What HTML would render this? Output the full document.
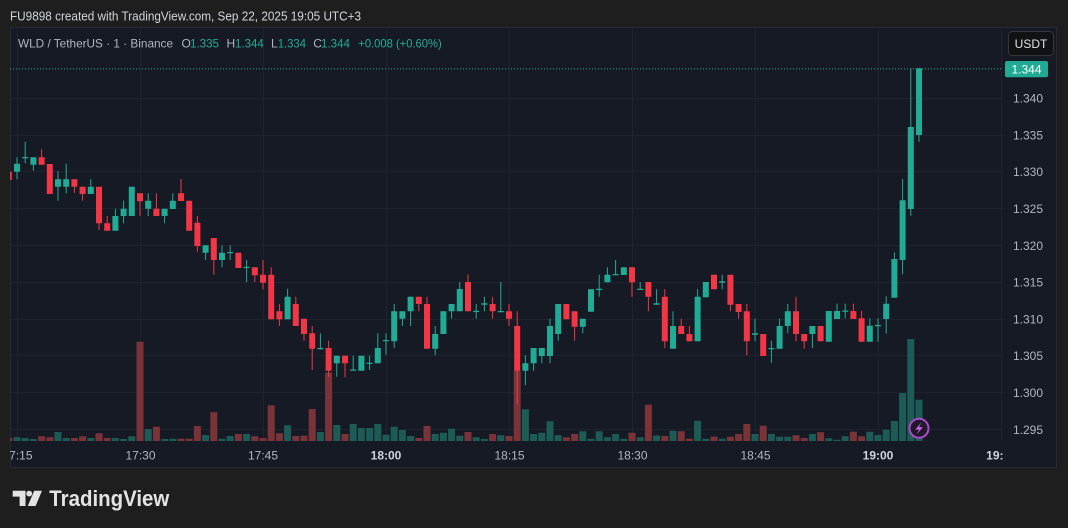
<!DOCTYPE html>
<html><head><meta charset="utf-8"><style>
html,body{margin:0;padding:0;background:#1e1e1e;width:1068px;height:528px;overflow:hidden}
svg{display:block}
text{font-family:"Liberation Sans",sans-serif}
</style></head><body>
<svg width="1068" height="528" viewBox="0 0 1068 528" xmlns="http://www.w3.org/2000/svg">
<defs>
<clipPath id="plot"><rect x="10" y="28" width="993" height="413.5"/></clipPath>
<clipPath id="taxis"><rect x="10" y="441" width="993" height="26"/></clipPath>
</defs>
<rect x="0" y="0" width="1068" height="528" fill="#1e1e1e"/>
<text x="10" y="20.5" font-size="13" fill="#d1d4dc" textLength="351" lengthAdjust="spacingAndGlyphs">FU9898 created with TradingView.com, Sep 22, 2025 19:05 UTC+3</text>
<rect x="10.5" y="27.5" width="1046" height="440" fill="#161a25" stroke="#262a35"/>
<!-- grid -->
<g stroke="#1f2330" stroke-width="1">
<path d="M10 98.5H1003M10 135.5H1003M10 171.5H1003M10 208.5H1003M10 245.5H1003M10 282.5H1003M10 319.5H1003M10 355.5H1003M10 392.5H1003M10 429.5H1003"/>
<path d="M17.5 28V441M140.5 28V441M263.5 28V441M386.5 28V441M509.5 28V441M632.5 28V441M755.5 28V441M878.5 28V441M1001.5 28V441"/>
</g>
<path d="M10 68.9H1003" stroke="#22ab94" stroke-width="1" stroke-dasharray="1 2"/>
<g clip-path="url(#plot)">
<!-- volumes -->
<path fill="#1d5c56" d="M13.5 437.3h7V441h-7zM21.7 438h7V441h-7zM29.9 439h7V441h-7zM54.5 432h7V441h-7zM62.7 438h7V441h-7zM87.3 438h7V441h-7zM111.9 438h7V441h-7zM120.1 439h7V441h-7zM128.3 436.3h7V441h-7zM144.7 429h7V441h-7zM161.1 439h7V441h-7zM169.3 438.7h7V441h-7zM202.1 435h7V441h-7zM218.5 438.7h7V441h-7zM226.7 436h7V441h-7zM243.1 434h7V441h-7zM284.1 425.3h7V441h-7zM316.9 432h7V441h-7zM333.3 425h7V441h-7zM349.7 424h7V441h-7zM357.9 428h7V441h-7zM366.1 428h7V441h-7zM374.3 424h7V441h-7zM382.5 434.7h7V441h-7zM390.7 426.7h7V441h-7zM398.9 430h7V441h-7zM407.1 436h7V441h-7zM431.7 434h7V441h-7zM439.9 432.7h7V441h-7zM448.1 428.7h7V441h-7zM456.3 435.7h7V441h-7zM472.7 437.3h7V441h-7zM480.9 439h7V441h-7zM497.3 435.3h7V441h-7zM521.9 409.3h7V441h-7zM530.1 434h7V441h-7zM538.3 432.7h7V441h-7zM546.5 421.3h7V441h-7zM554.7 435.3h7V441h-7zM579.3 431.3h7V441h-7zM587.5 438.7h7V441h-7zM595.7 431.3h7V441h-7zM603.9 437.3h7V441h-7zM612.1 434h7V441h-7zM620.3 438.7h7V441h-7zM636.7 437.3h7V441h-7zM653.1 435.5h7V441h-7zM669.5 430.7h7V441h-7zM694.1 420.7h7V441h-7zM702.3 438.7h7V441h-7zM718.7 438.7h7V441h-7zM751.5 434h7V441h-7zM767.9 434h7V441h-7zM776.1 436.7h7V441h-7zM784.3 436.7h7V441h-7zM808.9 434h7V441h-7zM825.3 438.3h7V441h-7zM833.5 439.7h7V441h-7zM841.7 436.3h7V441h-7zM866.3 431.7h7V441h-7zM874.5 435h7V441h-7zM882.7 429.7h7V441h-7zM890.9 421h7V441h-7zM899.1 393h7V441h-7zM907.3 339h7V441h-7zM915.5 399.7h7V441h-7z"/>
<path fill="#7a3439" d="M5.3 438h7V441h-7zM38.1 436.3h7V441h-7zM46.3 437.3h7V441h-7zM70.9 438h7V441h-7zM79.1 436.3h7V441h-7zM95.5 433.3h7V441h-7zM103.7 438h7V441h-7zM136.5 341.7h7V441h-7zM152.9 426.7h7V441h-7zM177.5 438.7h7V441h-7zM185.7 438.7h7V441h-7zM193.9 426h7V441h-7zM210.3 412.3h7V441h-7zM234.9 434h7V441h-7zM251.3 436.3h7V441h-7zM259.5 438h7V441h-7zM267.7 405.3h7V441h-7zM275.9 433.3h7V441h-7zM292.3 436h7V441h-7zM300.5 435.7h7V441h-7zM308.7 409h7V441h-7zM325.1 372.5h7V441h-7zM341.5 434h7V441h-7zM415.3 438h7V441h-7zM423.5 426h7V441h-7zM464.5 432h7V441h-7zM489.1 434h7V441h-7zM505.5 436h7V441h-7zM513.7 370.7h7V441h-7zM562.9 437.3h7V441h-7zM571.1 434h7V441h-7zM628.5 432.7h7V441h-7zM644.9 404.7h7V441h-7zM661.3 436h7V441h-7zM677.7 431.3h7V441h-7zM685.9 438.7h7V441h-7zM710.5 436.7h7V441h-7zM726.9 436.7h7V441h-7zM735.1 434h7V441h-7zM743.3 424h7V441h-7zM759.7 425.7h7V441h-7zM792.5 435.3h7V441h-7zM800.7 438h7V441h-7zM817.1 432.3h7V441h-7zM849.9 431.7h7V441h-7zM858.1 436.3h7V441h-7z"/>
<!-- wicks -->
<path fill="none" stroke="#22ab94" stroke-width="1" d="M17 157.3V179.3M25.2 141.7V163.3M33.4 157.3V170.7M58 171.3V200.7M66.2 163.7V193.3M90.8 179.3V194M115.4 208.7V230.7M123.6 200.7V223.3M131.8 186.7V216M148.2 193.3V216M164.6 208.7V223.3M172.8 193.3V209M205.6 245.3V260M222 245.3V267.3M230.2 245.3V260M246.6 260V282M287.6 288.7V319.3M320.4 333.3V349.3M336.8 355.7V376.7M353.2 355.7V370.7M361.4 355.7V370.7M369.6 355.7V370M377.8 333.3V363.3M386 333.3V354.7M394.2 304V348M402.4 311.3V326M410.6 296.7V326M435.2 326V355.3M443.4 311.3V334M451.6 304V318.7M459.8 282V311.3M476.2 304V318.7M484.4 296.7V311.3M500.8 282V312.3M525.4 355.3V385.3M533.6 348V370.7M541.8 348V363.3M550 318.7V363.3M558.2 304V340.7M582.8 318.7V333.3M591 289.3V311.7M599.2 274.7V296.7M607.4 267.3V282.3M615.6 260V275.3M623.8 267.3V275M640.2 282V290M656.6 289.3V304.7M673 311.3V348.7M697.6 289.3V341.3M705.8 282V297.3M722.2 274.7V289.3M755 318.7V341.3M771.4 340.7V362.7M779.6 318.7V348.7M787.8 304V333.3M812.4 326V348M828.8 311V341.7M837 303.7V319M845.2 303.7V318.3M869.8 318.3V341.7M878 318.3V341.7M886.2 296.3V333.7M894.4 252.3V297.7M902.6 179V274.3M910.8 68.3V215.7M919 68.3V141.7"/>
<path fill="none" stroke="#f23645" stroke-width="1" d="M8.8 171.7V180M41.6 149.3V164.7M49.8 164V194M74.4 179.3V193M82.6 186.7V200.7M99 186.7V230M107.2 216V230.7M140 193.3V216M156.4 193.3V216M181 179V201M189.2 200.7V230.7M197.4 216V251.7M213.8 238V274.7M238.4 252.7V268M254.8 267.3V282M263 260V289.3M271.2 267.3V319.3M279.4 304V326M295.8 296.7V326M304 318.7V340.7M312.2 326V370M328.6 340.7V376.7M345 355.7V377.3M418.8 296.7V311.3M427 296.7V348.7M468 274.3V311.3M492.6 296.7V318.7M509 304V326M517.2 311.3V404M566.4 304V319.3M574.6 311.3V340.7M632 267.3V296.7M648.4 282V311.3M664.8 289.3V348M681.2 318.7V334M689.4 326V341.3M714 274.7V289.3M730.4 274.7V311.3M738.6 304V318.7M746.8 304V355.3M763.2 334V356M796 296.7V341.3M804.2 334V348.7M820.6 326V341.3M853.4 303.7V319M861.6 311V341.7"/>
<!-- bodies -->
<path fill="#22ab94" d="M14 163.7h6v8h-6zM22.2 157h6v1.3h-6zM30.4 157.3h6v7.4h-6zM55 179.3h6v7.4h-6zM63.2 179.3h6v7.4h-6zM87.8 186.7h6v7.3h-6zM112.4 216h6v14.7h-6zM120.6 208.7h6v7.3h-6zM128.8 186.7h6v29.3h-6zM145.2 200.7h6v8h-6zM161.6 208.7h6v7.3h-6zM169.8 200.7h6v8.3h-6zM202.6 245.3h6v7.4h-6zM219 252.7h6v7.3h-6zM227.2 252h6v1.3h-6zM243.6 266.7h6v1.3h-6zM284.6 296.7h6v22.6h-6zM317.4 348h6v1.3h-6zM333.8 355.7h6v7.6h-6zM350.2 369.5h6v1.2h-6zM358.4 355.7h6v15h-6zM366.6 362.7h6v1.3h-6zM374.8 348h6v15.3h-6zM383 340h6v1.3h-6zM391.2 311.3h6v30h-6zM399.4 311.3h6v7.4h-6zM407.6 296.7h6v14.6h-6zM432.2 334h6v14.7h-6zM440.4 311.3h6v22.7h-6zM448.6 304h6v7.3h-6zM456.8 289h6v22.3h-6zM473.2 310.7h6v1.3h-6zM481.4 303.3h6v1.4h-6zM497.8 311h6v1.3h-6zM522.4 363.3h6v7.4h-6zM530.6 348h6v15.3h-6zM538.8 348h6v8h-6zM547 326h6v30h-6zM555.2 304h6v30h-6zM579.8 318.7h6v8h-6zM588 289.3h6v22.4h-6zM596.2 288.7h6v1.3h-6zM604.4 274.7h6v7.6h-6zM612.6 274h6v1.3h-6zM620.8 267.3h6v7.7h-6zM637.2 288.7h6v1.3h-6zM653.6 303.3h6v1.4h-6zM670 326h6v22.7h-6zM694.6 296.7h6v44.6h-6zM702.8 282h6v15.3h-6zM719.2 281.3h6v1.4h-6zM752 333.3h6v1.4h-6zM768.4 348h6v1.3h-6zM776.6 326h6v22.7h-6zM784.8 311.3h6v14.7h-6zM809.4 326h6v8h-6zM825.8 311h6v30.7h-6zM834 311h6v8h-6zM842.2 310.5h6v1.2h-6zM866.8 325.7h6v16h-6zM875 325h6v1.3h-6zM883.2 303.7h6v15.3h-6zM891.4 259h6v38.7h-6zM899.6 200.3h6v59.7h-6zM907.8 127h6v82h-6zM916 68.3h6v66.7h-6z"/>
<path fill="#f23645" d="M5.8 171.7h6v8.3h-6zM38.6 157.3h6v7.4h-6zM46.8 164h6v30h-6zM71.4 179.3h6v7.4h-6zM79.6 186.7h6v7.3h-6zM96 186.7h6v36.6h-6zM104.2 223.3h6v7.4h-6zM137 193.3h6v8h-6zM153.4 208.7h6v7.3h-6zM178 193.3h6v7.7h-6zM186.2 200.7h6v30h-6zM194.4 222.7h6v23.3h-6zM210.8 238h6v22h-6zM235.4 252.7h6v15.3h-6zM251.8 267.3h6v8h-6zM260 274.7h6v8h-6zM268.2 274.7h6v44.6h-6zM276.4 311.3h6v8h-6zM292.8 304h6v22h-6zM301 318.7h6v15.3h-6zM309.2 333.3h6v15.4h-6zM325.6 348h6v22.7h-6zM342 355.7h6v7.6h-6zM415.8 296.7h6v7.3h-6zM424 304h6v44.7h-6zM465 282h6v29.3h-6zM489.6 304h6v7.3h-6zM506 311.3h6v7.4h-6zM514.2 326h6v44.7h-6zM563.4 304h6v15.3h-6zM571.6 311.3h6v15.4h-6zM629 267.3h6v15h-6zM645.4 282h6v14.7h-6zM661.8 296.7h6v44.6h-6zM678.2 326h6v8h-6zM686.4 334h6v7.3h-6zM711 274.7h6v14.6h-6zM727.4 274.7h6v30h-6zM735.6 304h6v8h-6zM743.8 311.3h6v30h-6zM760.2 334h6v22h-6zM793 311.3h6v22.7h-6zM801.2 334h6v7.3h-6zM817.6 326h6v15.3h-6zM850.4 311h6v8h-6zM858.6 318.3h6v23.4h-6z"/>
</g>
<!-- lightning icon -->
<circle cx="919" cy="428.3" r="9.5" fill="#22172b" stroke="#a84cc8" stroke-width="2"/>
<path d="M921.5 422.3L915.3 429.5H919.2L916.6 434.5L922.8 427.2H918.9Z" fill="#c768e6"/>
<!-- legend -->
<g font-size="12">
<text x="18" y="47.3" fill="#b2b5be" textLength="155" lengthAdjust="spacingAndGlyphs">WLD / TetherUS · 1 · Binance</text>
<text x="181.5" y="47.3" fill="#b2b5be">O</text><text x="190" y="47.3" fill="#22ab94" textLength="29" lengthAdjust="spacingAndGlyphs">1.335</text>
<text x="226.5" y="47.3" fill="#b2b5be">H</text><text x="235" y="47.3" fill="#22ab94" textLength="28.7" lengthAdjust="spacingAndGlyphs">1.344</text>
<text x="271" y="47.3" fill="#b2b5be">L</text><text x="277.7" y="47.3" fill="#22ab94" textLength="28.3" lengthAdjust="spacingAndGlyphs">1.334</text>
<text x="313.3" y="47.3" fill="#b2b5be">C</text><text x="321" y="47.3" fill="#22ab94" textLength="29" lengthAdjust="spacingAndGlyphs">1.344</text>
<text x="358.3" y="47.3" fill="#22ab94" textLength="83.4" lengthAdjust="spacingAndGlyphs">+0.008 (+0.60%)</text>
</g>
<!-- USDT button -->
<rect x="1008.5" y="31.5" width="45" height="24" rx="4" fill="#111214" stroke="#34363c"/>
<text x="1031" y="48" font-size="12" fill="#e0e3eb" text-anchor="middle">USDT</text>
<!-- price axis -->
<g font-size="12" fill="#b2b5be">
<text x="1013" y="102.6">1.340</text>
<text x="1013" y="139.4">1.335</text>
<text x="1013" y="176.2">1.330</text>
<text x="1013" y="213">1.325</text>
<text x="1013" y="249.8">1.320</text>
<text x="1013" y="286.6">1.315</text>
<text x="1013" y="323.4">1.310</text>
<text x="1013" y="360.2">1.305</text>
<text x="1013" y="397">1.300</text>
<text x="1013" y="433.8">1.295</text>
</g>
<rect x="1005" y="61" width="43" height="16.3" rx="2" fill="#22ab94"/>
<text x="1026.5" y="73.4" font-size="12" fill="#ffffff" text-anchor="middle">1.344</text>
<!-- time axis -->
<g clip-path="url(#taxis)" font-size="12" text-anchor="middle">
<text x="17.5" y="459.5" fill="#b2b5be">17:15</text>
<text x="140.5" y="459.5" fill="#b2b5be">17:30</text>
<text x="263" y="459.5" fill="#b2b5be">17:45</text>
<text x="386" y="459.5" fill="#d1d4dc" font-weight="bold">18:00</text>
<text x="509.5" y="459.5" fill="#b2b5be">18:15</text>
<text x="632.5" y="459.5" fill="#b2b5be">18:30</text>
<text x="755.5" y="459.5" fill="#b2b5be">18:45</text>
<text x="878" y="459.5" fill="#d1d4dc" font-weight="bold">19:00</text>
<text x="1001.5" y="459.5" fill="#d1d4dc" font-weight="bold">19:15</text>
</g>
<!-- logo -->
<g fill="#e3e3e3">
<path d="M12.7 490.7H25.5V506H19.6V496.6H12.7Z"/>
<circle cx="29.2" cy="493.6" r="2.9"/>
<path d="M34.2 490.7H42L35.6 506H27.8Z"/>
</g>
<text x="49.3" y="506" font-size="22" font-weight="bold" fill="#e3e3e3" textLength="120" lengthAdjust="spacingAndGlyphs">TradingView</text>
</svg>
</body></html>
